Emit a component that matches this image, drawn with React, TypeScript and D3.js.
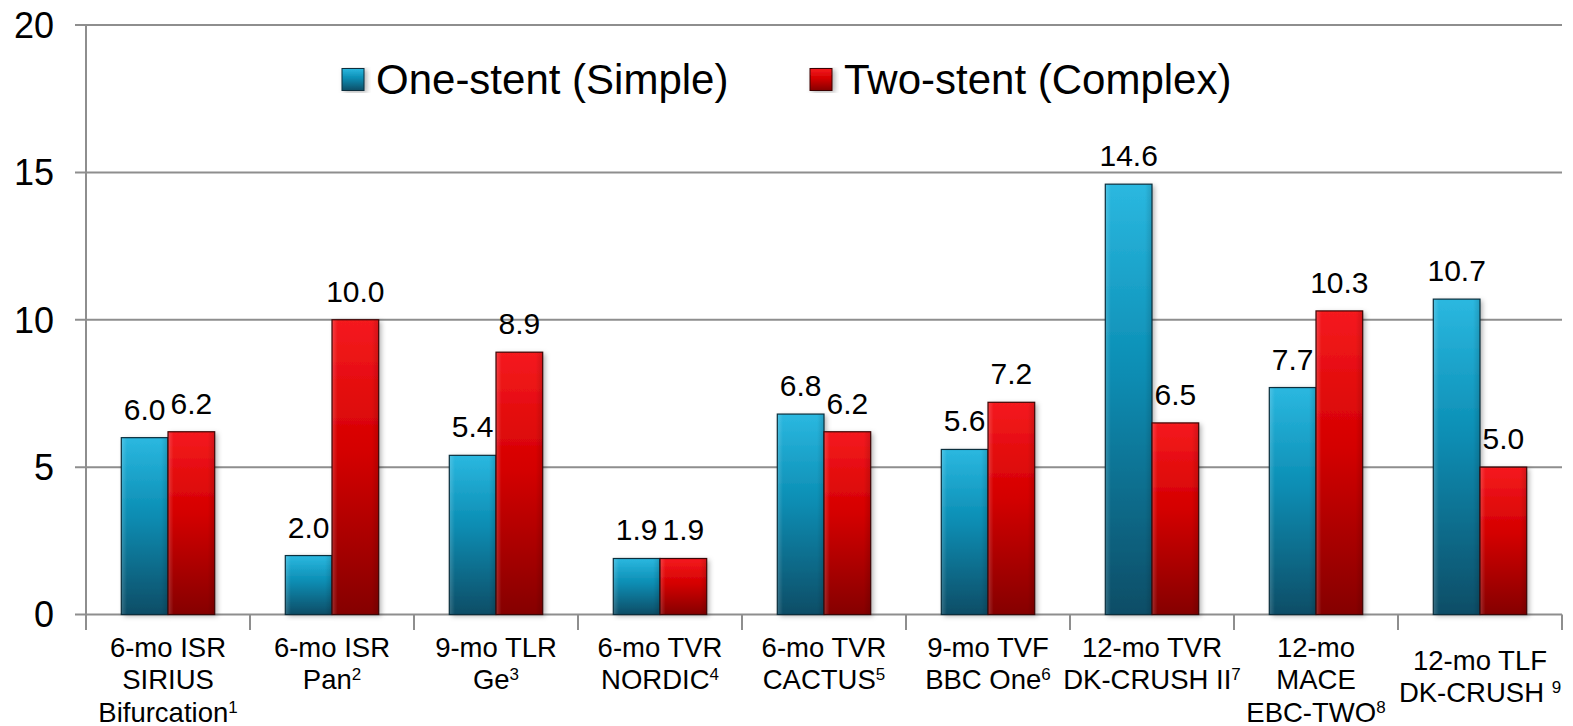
import React from "react";
import * as d3 from "d3";

// Study labels, one line per entry; a trailing superscript reference number is kept separately
const categoryLines: string[][] = [
  ["6-mo ISR", "SIRIUS", "Bifurcation"],
  ["6-mo ISR", "Pan"],
  ["9-mo TLR", "Ge"],
  ["6-mo TVR", "NORDIC"],
  ["6-mo TVR", "CACTUS"],
  ["9-mo TVF", "BBC One"],
  ["12-mo TVR", "DK-CRUSH II"],
  ["12-mo", "MACE", "EBC-TWO"],
  ["12-mo TLF", "DK-CRUSH "],
];
const references: string[] = ["1", "2", "3", "4", "5", "6", "7", "8", "9"];

const seriesNames: string[] = ["One-stent (Simple)", "Two-stent (Complex)"];
const oneStent: number[] = [6.0, 2.0, 5.4, 1.9, 6.8, 5.6, 14.6, 7.7, 10.7];
const twoStent: number[] = [6.2, 10.0, 8.9, 1.9, 6.2, 7.2, 6.5, 10.3, 5.0];
const yTicks: number[] = [0, 5, 10, 15, 20];

const W = 1573;
const H = 726;
const FONT = "'Liberation Sans', Arial, sans-serif";
const GRID = "#8e8e8e";

const categories = categoryLines.map((_, i) => `c${i}`);

export default function App() {
  const x0 = d3.scaleBand<string>().domain(categories).range([86, 1562]).paddingInner(0).paddingOuter(0);
  const x1 = d3
    .scaleBand<string>()
    .domain(seriesNames)
    .range([0, x0.bandwidth()])
    .paddingInner(0)
    .paddingOuter(0.756);
  const y = d3.scaleLinear().domain([0, 20]).range([614.5, 25]);
  const values = [oneStent, twoStent];
  const fills = ["url(#gBlue)", "url(#gRed)"];
  const strokes = ["#0b2f3d", "#3d0505"];

  const lineH = 32.5;
  const firstBase = 656.5;
  const maxLines = d3.max(categoryLines, (l) => l.length) || 1;

  return (
    <svg
      width={W}
      height={H}
      style={{ position: "absolute", left: 0, top: 0, background: "#fff" }}
      fontFamily={FONT}
    >
      <defs>
        <linearGradient id="gBlue" x1="0" y1="0" x2="0" y2="1">
          <stop offset="0" stopColor="#2bb8e0" />
          <stop offset="0.45" stopColor="#0a8cb2" />
          <stop offset="1" stopColor="#0a4d66" />
        </linearGradient>
        <linearGradient id="gRed" x1="0" y1="0" x2="0" y2="1">
          <stop offset="0" stopColor="#f51a1f" />
          <stop offset="0.45" stopColor="#d40000" />
          <stop offset="1" stopColor="#850000" />
        </linearGradient>
        <linearGradient id="gSheen" x1="0" y1="0" x2="1" y2="0">
          <stop offset="0" stopColor="#ffffff" stopOpacity="0.18" />
          <stop offset="0.12" stopColor="#ffffff" stopOpacity="0" />
          <stop offset="0.85" stopColor="#000000" stopOpacity="0" />
          <stop offset="1" stopColor="#000000" stopOpacity="0.14" />
        </linearGradient>
        <filter id="shadow" x="-20%" y="-5%" width="150%" height="115%">
          <feDropShadow dx="2.5" dy="1.5" stdDeviation="2.5" floodColor="#000" floodOpacity="0.3" />
        </filter>
      </defs>

      {/* horizontal gridlines with left tick marks */}
      {yTicks.map((t) => (
        <line key={`g${t}`} x1={75} x2={1562} y1={y(t)} y2={y(t)} stroke={GRID} strokeWidth={2} />
      ))}
      {/* value axis */}
      <line x1={86} x2={86} y1={y(20)} y2={630} stroke={GRID} strokeWidth={2} />
      {/* category separators */}
      {categories.map((c, i) => (
        <line key={`s${c}`} x1={x0(c)! + x0.bandwidth()} x2={x0(c)! + x0.bandwidth()} y1={y(0)} y2={630} stroke={GRID} strokeWidth={2} />
      ))}

      {/* tick labels */}
      {yTicks.map((t) => (
        <text key={`t${t}`} x={54} y={y(t)} dy="0.36em" textAnchor="end" fontSize={36} fill="#000">
          {t}
        </text>
      ))}

      {/* bars */}
      {categories.map((c, i) => (
        <g key={`b${c}`} transform={`translate(${x0(c)},0)`}>
          {seriesNames.map((s, k) => {
            const v = values[k][i];
            const bx = x1(s)!;
            const by = y(v);
            const bh = y(0) - by;
            return (
              <g key={s}>
                <rect x={bx} y={by} width={x1.bandwidth()} height={bh} fill={fills[k]} filter="url(#shadow)" />
                <rect x={bx} y={by} width={x1.bandwidth()} height={bh} fill="url(#gSheen)" stroke={strokes[k]} strokeWidth={1.2} />
              </g>
            );
          })}
        </g>
      ))}

      {/* value labels */}
      {categories.map((c, i) =>
        seriesNames.map((s, k) => {
          const v = values[k][i];
          return (
            <text
              key={`v${c}${s}`}
              x={x0(c)! + x1(s)! + x1.bandwidth() / 2}
              y={y(v) - 18}
              textAnchor="middle"
              fontSize={30}
              fill="#000"
            >
              {v.toFixed(1)}
            </text>
          );
        })
      )}

      {/* category labels */}
      {categories.map((c, i) => {
        const lines = categoryLines[i];
        const cx = x0(c)! + x0.bandwidth() / 2;
        // the final label sits centred in the block rather than top-aligned
        const shift = i === categories.length - 1 ? ((maxLines - lines.length) * lineH) / 2 - 3 : 0;
        return (
          <text key={`l${c}`} textAnchor="middle" fontSize={27.5} fill="#000">
            {lines.map((ln, j) => {
              const last = j === lines.length - 1;
              return (
                <tspan key={j} x={cx} y={firstBase + shift + j * lineH}>
                  {ln}
                  {last ? (
                    <tspan fontSize={17} dy={-9}>
                      {references[i]}
                    </tspan>
                  ) : null}
                </tspan>
              );
            })}
          </text>
        );
      })}

      {/* legend */}
      {seriesNames.map((s, k) => {
        const lx = [342, 810][k];
        return (
          <g key={`lg${s}`}>
            <rect x={lx} y={68.5} width={22} height={22} fill={fills[k]} stroke={strokes[k]} strokeWidth={1} filter="url(#shadow)" />
            <text x={lx + 34} y={94} fontSize={42} fill="#000">
              {s}
            </text>
          </g>
        );
      })}
    </svg>
  );
}
